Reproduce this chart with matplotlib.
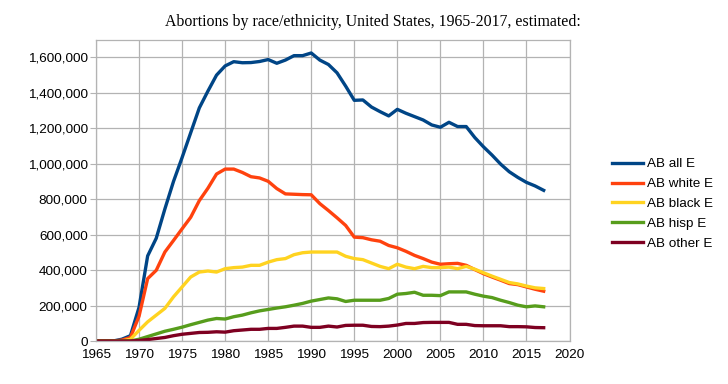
import matplotlib
matplotlib.use("Agg")
import matplotlib.pyplot as plt
from matplotlib.ticker import FuncFormatter, MultipleLocator

years = list(range(1965, 2018))

ab_all = [0, 0, 0, 10000, 30000, 190000, 480000, 580000, 745000, 900000,
          1035000, 1175000, 1315000, 1410000, 1500000, 1552000, 1576000, 1570000, 1571000, 1577000,
          1588000, 1567000, 1585000, 1610000, 1610000, 1625000, 1585000, 1560000, 1513000, 1438000,
          1358000, 1360000, 1320000, 1294000, 1270000, 1307000, 1285000, 1266000, 1247000, 1219000,
          1206000, 1234000, 1210000, 1210000, 1148000, 1096000, 1049000, 998000, 955000, 923000,
          895000, 875000, 850000]

ab_white = [0, 0, 0, 5000, 20000, 140000, 352000, 399000, 502000, 567000,
            633000, 698000, 792000, 862000, 942000, 970000, 970000, 951000, 927000, 920000,
            901000, 860000, 830000, 828000, 826000, 825000, 775000, 736000, 695000, 652000,
            586000, 583000, 571000, 563000, 539000, 526000, 506000, 483000, 465000, 445000,
            433000, 436000, 438000, 427000, 403000, 380000, 361000, 343000, 324000, 318000,
            305000, 292000, 281000]

ab_black = [0, 0, 0, 0, 10000, 60000, 108000, 146000, 184000, 249000,
            305000, 361000, 389000, 395000, 389000, 408000, 414000, 417000, 427000, 427000,
            445000, 459000, 465000, 487000, 498000, 502000, 502000, 502000, 502000, 478000,
            465000, 459000, 440000, 421000, 408000, 433000, 417000, 408000, 421000, 414000,
            414000, 417000, 408000, 421000, 405000, 385000, 366000, 348000, 330000, 322000,
            310000, 300000, 296000]

ab_hisp = [0, 0, 0, 0, 0, 10000, 25000, 40000, 55000, 66000,
           78000, 92000, 105000, 118000, 127000, 124000, 137000, 146000, 159000, 170000,
           178000, 186000, 193000, 202000, 212000, 225000, 234000, 243000, 238000, 223000,
           230000, 230000, 230000, 230000, 240000, 264000, 268000, 275000, 258000, 258000,
           256000, 277000, 277000, 277000, 264000, 253000, 245000, 230000, 217000, 202000,
           193000, 198000, 193000]

ab_other = [0, 0, 0, 0, 0, 3000, 8000, 14000, 20000, 30000,
            38000, 43000, 48000, 49000, 52000, 50000, 58000, 62000, 66000, 66000,
            71000, 71000, 77000, 84000, 84000, 77000, 77000, 84000, 79000, 88000,
            89000, 89000, 82000, 81000, 84000, 90000, 99000, 99000, 104000, 105000,
            105000, 105000, 94000, 94000, 87000, 86000, 86000, 86000, 81000, 81000,
            80000, 76000, 75000]

series_names = ["AB all E", "AB white E", "AB black E", "AB hisp E", "AB other E"]
series_values = [ab_all, ab_white, ab_black, ab_hisp, ab_other]
series_colors = ["#004586", "#ff420e", "#ffd320", "#579d1c", "#7e0021"]

title = "Abortions by race/ethnicity, United States, 1965-2017, estimated:"

fig = plt.figure(figsize=(7.28, 3.84), dpi=100)
ax = fig.add_axes([96 / 728, 1 - 341 / 384, (569.5 - 96) / 728, (341 - 39.7) / 384])

for name, vals, col in zip(series_names, series_values, series_colors):
    ax.plot(years, vals, color=col, lw=2.4, label=name, solid_joinstyle="round")

ax.set_xlim(1965, 2020)
ax.set_ylim(0, 1700000)
ax.xaxis.set_major_locator(MultipleLocator(5))
ax.set_yticks(range(0, 1600001, 200000))
ax.yaxis.set_major_formatter(FuncFormatter(lambda v, p: f"{int(v):,}"))
ax.grid(True, color="#b3b3b3", lw=0.9)
ax.set_axisbelow(True)
for s in ax.spines.values():
    s.set_color("#b3b3b3")
    s.set_linewidth(0.9)
ax.tick_params(axis="y", length=4, color="#b3b3b3", labelsize=9.7, pad=2)
ax.tick_params(axis="x", length=0, labelsize=9.7, pad=6)
for lab in ax.get_xticklabels() + ax.get_yticklabels():
    lab.set_fontfamily("Liberation Sans")

fig.text(373 / 728, 1 - 22 / 384, title, ha="center", va="center",
         family="Liberation Serif", fontsize=11.4)

leg = fig.legend(loc="upper left", bbox_to_anchor=(612 / 728, 1 - 158 / 384),
                 frameon=False, prop={"family": "Liberation Sans", "size": 9.7},
                 handlelength=2.3, handletextpad=0.3, labelspacing=0.55, borderpad=0,
                 borderaxespad=0)

fig.savefig("out.png", dpi=100)
